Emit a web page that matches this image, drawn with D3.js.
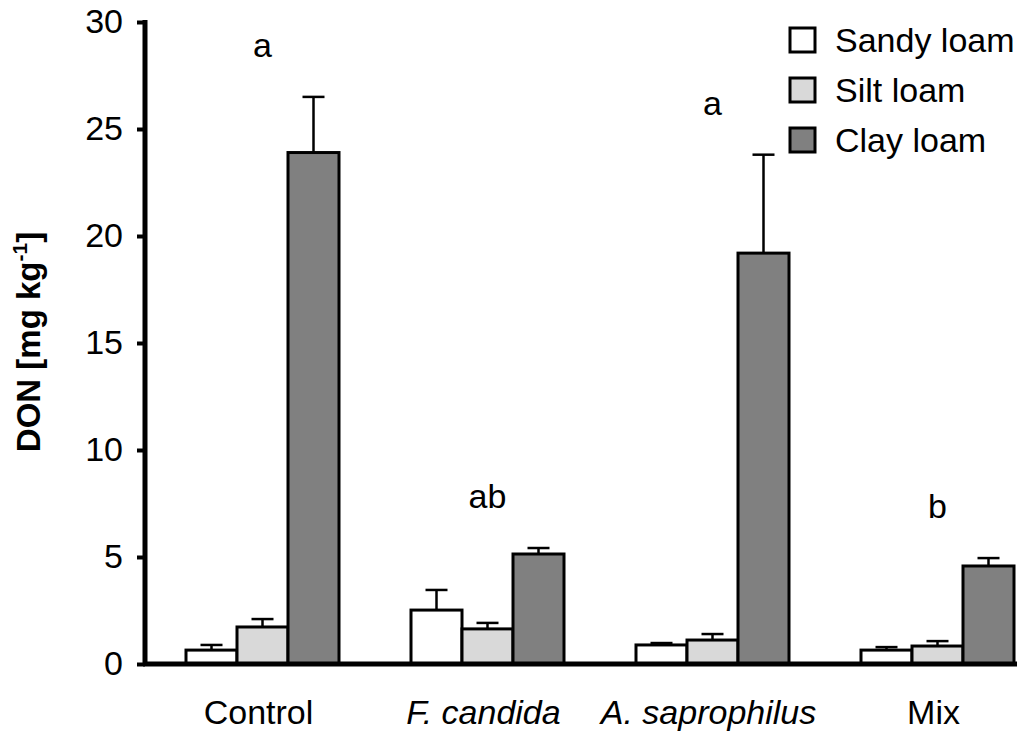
<!DOCTYPE html>
<html>
<head>
<meta charset="utf-8">
<script src="https://cdn.jsdelivr.net/npm/d3@7"></script>
<style>
  body { margin: 0; background: #fff; }
  text { font-family: "Liberation Sans", Arial, sans-serif; fill: #000; }
</style>
</head>
<body>
<svg id="chart" width="1023" height="733"></svg>
<script>
// data
let groups = ["Control", "F. candida", "A. saprophilus", "Mix"];
let italicGroup = [false, true, true, false];
let soils = ["Sandy loam", "Silt loam", "Clay loam"];
let sandy = [0.65, 2.52, 0.89, 0.65];
let sandyErr = [0.24, 0.94, 0.09, 0.14];
let silt = [1.73, 1.64, 1.12, 0.84];
let siltErr = [0.37, 0.28, 0.28, 0.23];
let clay = [23.9, 5.14, 19.2, 4.58];
let clayErr = [2.6, 0.28, 4.6, 0.37];
let letters = ["a", "ab", "a", "b"];
let yTicks = [0, 5, 10, 15, 20, 25, 30];
let colors = ["#ffffff", "#d9d9d9", "#808080"];

let svg = d3.select("#chart");

let x0 = d3.scaleBand().domain(groups).range([150, 1050]).paddingInner(0.32).paddingOuter(0.16);
let x1 = d3.scaleBand().domain(soils).range([0, x0.bandwidth()]);
let y = d3.scaleLinear().domain([0, 30]).range([664, 22]);
let color = d3.scaleOrdinal().domain(soils).range(colors);

let rows = [];
groups.forEach(function(g, i) {
  rows.push({ group: g, soil: soils[0], v: sandy[i], e: sandyErr[i] });
  rows.push({ group: g, soil: soils[1], v: silt[i], e: siltErr[i] });
  rows.push({ group: g, soil: soils[2], v: clay[i], e: clayErr[i] });
});

// error bars (behind the bars so the stem starts at the bar top)
let err = svg.append("g").attr("stroke", "#000").attr("stroke-width", 2.5);
rows.forEach(function(d) {
  let cx = x0(d.group) + x1(d.soil) + x1.bandwidth() / 2;
  err.append("line").attr("x1", cx).attr("x2", cx).attr("y1", y(d.v)).attr("y2", y(d.v + d.e));
  err.append("line").attr("x1", cx - 11).attr("x2", cx + 11).attr("y1", y(d.v + d.e)).attr("y2", y(d.v + d.e));
});

// bars
svg.append("g").selectAll("rect")
  .data(rows)
  .enter()
  .append("rect")
  .attr("x", function(d) { return x0(d.group) + x1(d.soil); })
  .attr("y", function(d) { return y(d.v); })
  .attr("width", x1.bandwidth())
  .attr("height", function(d) { return y(0) - y(d.v); })
  .attr("fill", function(d) { return color(d.soil); })
  .attr("stroke", "#000")
  .attr("stroke-width", 3);

// significance letters, centred over each group
svg.append("g").selectAll("text")
  .data(groups)
  .enter()
  .append("text")
  .attr("x", function(g) { return x0(g) + x0.bandwidth() / 2; })
  .attr("y", function(g, i) { return y(clay[i] + clayErr[i]) - 40; })
  .attr("text-anchor", "middle")
  .attr("font-size", 34)
  .text(function(g, i) { return letters[i]; });

// y axis
let yAxis = svg.append("g")
  .attr("transform", "translate(145,0)")
  .call(d3.axisLeft(y).tickValues(yTicks).tickSize(8).tickPadding(14));
yAxis.select(".domain").attr("stroke-width", 5).attr("d", "M0," + (y(30) - 2) + "V" + (y(0) + 2));
yAxis.selectAll(".tick line").attr("stroke-width", 4);
yAxis.selectAll(".tick text")
  .attr("font-size", 34)
  .attr("font-family", "Liberation Sans, Arial, sans-serif");

// x axis
svg.append("line")
  .attr("x1", 143).attr("x2", 1017)
  .attr("y1", y(0)).attr("y2", y(0))
  .attr("stroke", "#000").attr("stroke-width", 5);

let xAxis = svg.append("g")
  .attr("transform", "translate(-4," + y(0) + ")")
  .call(d3.axisBottom(x0).tickSize(0).tickPadding(36));
xAxis.select(".domain").remove();
xAxis.selectAll(".tick text")
  .attr("font-size", 34)
  .attr("font-family", "Liberation Sans, Arial, sans-serif")
  .attr("font-style", function(g, i) { return italicGroup[i] ? "italic" : "normal"; });

// y axis title
let title = svg.append("text")
  .attr("transform", "translate(40,342) rotate(-90)")
  .attr("text-anchor", "middle")
  .attr("font-size", 33)
  .attr("font-weight", "bold");
title.append("tspan").text("DON [mg kg");
title.append("tspan").attr("font-size", 21).attr("dy", -13).text("-1");
title.append("tspan").attr("dy", 13).text("]");

// legend
let legend = svg.append("g").selectAll("g")
  .data(soils)
  .enter()
  .append("g")
  .attr("transform", function(d, i) { return "translate(790," + (28 + i * 50) + ")"; });
legend.append("rect")
  .attr("width", 25).attr("height", 24)
  .attr("fill", function(d) { return color(d); })
  .attr("stroke", "#000").attr("stroke-width", 3);
legend.append("text")
  .attr("x", 45).attr("y", 24)
  .attr("font-size", 34)
  .text(function(d) { return d; });
</script>
</body>
</html>
